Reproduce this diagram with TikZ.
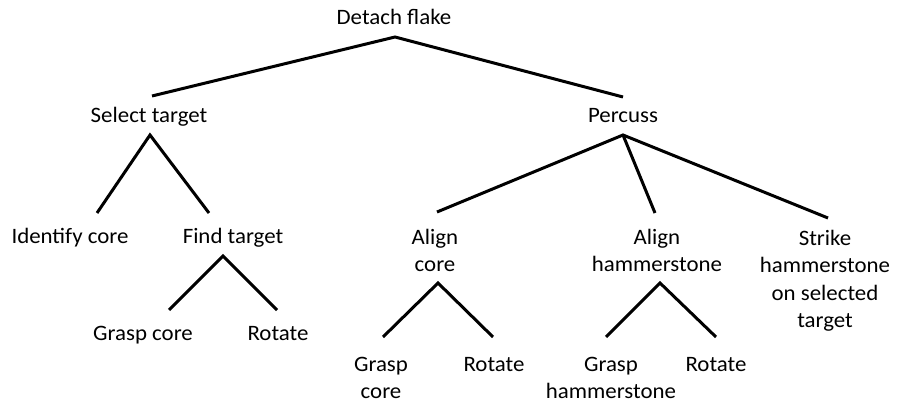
\documentclass[tikz,border=0pt]{standalone}
\usepackage{fontspec}
\setmainfont{Carlito}[FakeStretch=1.04]
\begin{document}
\begin{tikzpicture}[x=1pt,y=-1pt,
  lbl/.style={inner sep=0pt,align=center,anchor=base,font=\fontsize{22}{27.4}\selectfont},
  edge/.style={line width=3pt}]
\useasboundingbox (0,0) rectangle (900,403);
% labels (positions = baseline of last line)
\node[lbl] (detach) at (394,25) {Detach flake};
\node[lbl] (select) at (149,123) {Select target};
\node[lbl] (percuss) at (623,123) {Percuss};
\node[lbl] (identify) at (70,244) {Identify core};
\node[lbl] (find) at (233,244) {Find target};
\node[lbl] (graspA) at (143,341) {Grasp core};
\node[lbl] (rotA) at (278,341) {Rotate};
\node[lbl] (aligncore) at (435,272) {Align\\core};
\node[lbl] (alignham) at (657,272) {Align\\hammerstone};
\node[lbl] (strike) at (825,327.5) {Strike\\hammerstone\\on selected\\target};
\node[lbl] (graspB) at (381,399) {Grasp\\core};
\node[lbl] (rotB) at (494,372) {Rotate};
\node[lbl] (graspC) at (611,399) {Grasp\\hammerstone};
\node[lbl] (rotC) at (716,372) {Rotate};
% connector points
\coordinate (pD) at (395,37);
\coordinate (eS) at (152,96);
\coordinate (eP) at (623,97);
\coordinate (pS) at (150,135);
\coordinate (eI) at (97,213);
\coordinate (eF) at (209,213);
\coordinate (pF) at (223,256);
\coordinate (eGA) at (169,310);
\coordinate (eRA) at (277,310);
\coordinate (pP) at (623,135);
\coordinate (eAC) at (437,212);
\coordinate (eAH) at (655,213);
\coordinate (eST) at (828,218);
\coordinate (pAC) at (438,283);
\coordinate (eGB) at (383,337);
\coordinate (eRB) at (493,337);
\coordinate (pAH) at (660,283);
\coordinate (eGC) at (606,337);
\coordinate (eRC) at (716,337);
% connectors
\draw[edge] (eS) -- (pD) -- (eP);
\draw[edge] (eI) -- (pS) -- (eF);
\draw[edge] (eGA) -- (pF) -- (eRA);
\draw[edge] (eAC) -- (pP) -- (eST);
\draw[edge] (pP) -- (eAH);
\draw[edge] (eGB) -- (pAC) -- (eRB);
\draw[edge] (eGC) -- (pAH) -- (eRC);
\end{tikzpicture}
\end{document}
